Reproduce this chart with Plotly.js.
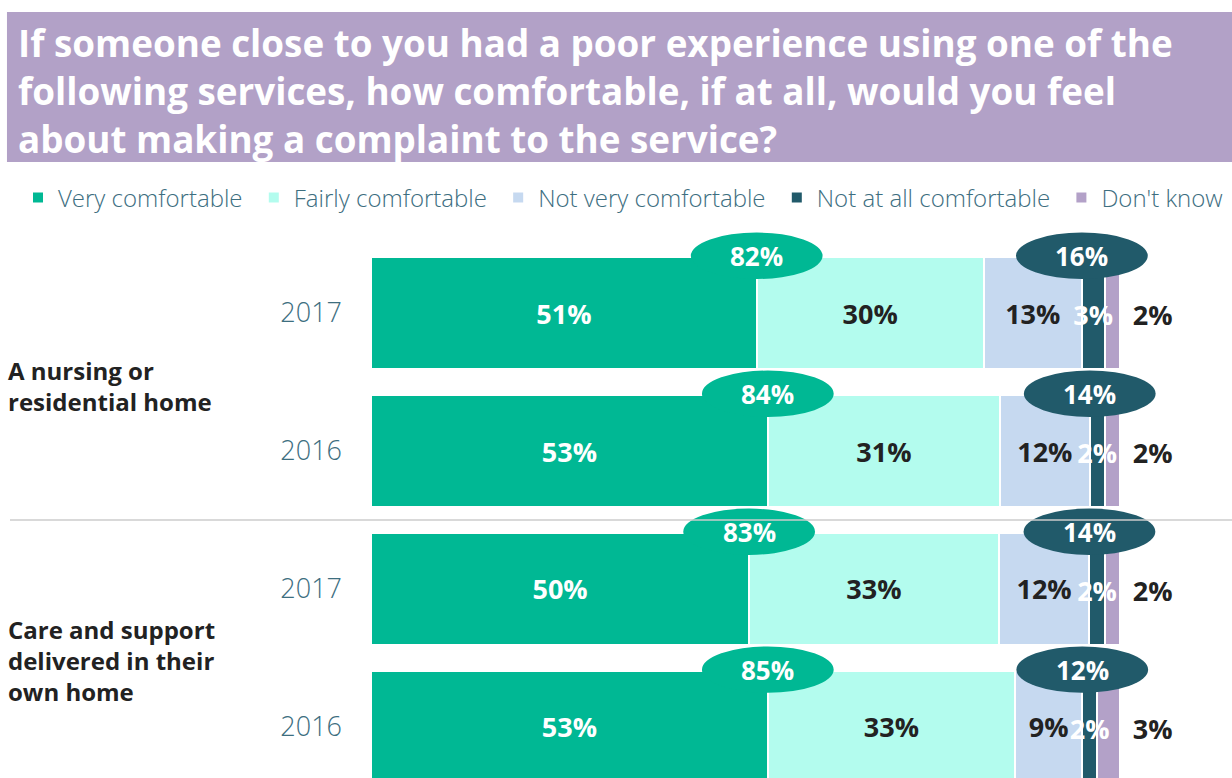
<!DOCTYPE html>
<html>
<head>
<meta charset="utf-8">
<script src="https://cdn.plot.ly/plotly-3.0.1.min.js"></script>
<style>html,body{margin:0;padding:0;background:#fff;}#chart{width:1232px;height:778px;}</style>
</head>
<body>
<div id="chart"></div>
<script>
// ---- data ----
const groupLabels = ['A nursing or<br>residential home', 'Care and support<br>delivered in their<br>own home'];
const yearLabels = ['2017', '2016', '2017', '2016'];
const seriesNames = ['Very comfortable', 'Fairly comfortable', 'Not very comfortable', 'Not at all comfortable', "Don't know"];
const veryComfortable = [51, 53, 50, 53];
const fairlyComfortable = [30, 31, 33, 33];
const notVeryComfortable = [13, 12, 12, 9];
const notAtAllComfortable = [3, 2, 2, 2];
const dontKnow = [2, 2, 2, 3];
const comfortableNet = [82, 84, 83, 85];
const uncomfortableNet = [16, 14, 14, 12];

// ---- styles ----
const FONT = 'Open Sans, Noto Sans, sans-serif';
const colors = ['#00b894', '#b3fcee', '#c6d9f0', '#215a6a', '#b3a1c8'];
const labelColors = ['#ffffff', '#222222', '#222222', '#ffffff', '#222222'];
const BAR_W = 0.81;
const TEXT_DY = 0.035;

const rows = yearLabels.map((_, i) => i);
const series = [veryComfortable, fairlyComfortable, notVeryComfortable, notAtAllComfortable, dontKnow];
const totals = rows.map(i => series.reduce((s, arr) => s + arr[i], 0));
const pct = v => v + '%';

const traces = series.map((vals, k) => ({
  type: 'bar', orientation: 'h', name: seriesNames[k] + (k < 4 ? '\u00a0' : ''),
  y: rows, x: vals, width: BAR_W,
  marker: {color: colors[k], line: {color: '#ffffff', width: 2}},
  text: vals.map(pct),
  textposition: k < 3 ? 'inside' : 'none',
  insidetextanchor: 'middle',
  constraintext: 'none',
  textfont: {family: FONT, size: 27, color: labelColors[k], weight: 700},
  hoverinfo: 'skip'
}));

// labels for the thin segments (drawn on top)
const cum3 = rows.map(i => veryComfortable[i] + fairlyComfortable[i] + notVeryComfortable[i]);
traces.push({
  type: 'scatter', mode: 'text', showlegend: false, hoverinfo: 'skip',
  y: rows.map(r => r + TEXT_DY),
  x: rows.map(i => (cum3[i] + notAtAllComfortable[i] / 2) / totals[i] * 100),
  text: notAtAllComfortable.map(pct),
  textfont: {family: FONT, size: 27, color: '#ffffff', weight: 700}
});
traces.push({
  type: 'scatter', mode: 'text', showlegend: false, hoverinfo: 'skip',
  y: rows.map(r => r + TEXT_DY),
  x: rows.map(() => 100 + 4.4),
  text: dontKnow.map(pct),
  textfont: {family: FONT, size: 27, color: '#222222', weight: 700}
});

const shapes = [];
const annotations = [];
const EW = 8.8, EH = 0.168;
rows.forEach(i => {
  const yTop = i - BAR_W / 2 - 0.01;
  const cxA = veryComfortable[i] / totals[i] * 100;
  const cxB = cum3[i] / totals[i] * 100;
  [[cxA, colors[0], comfortableNet[i]], [cxB, colors[3], uncomfortableNet[i]]].forEach(([cx, col, v]) => {
    shapes.push({type: 'circle', xref: 'x', yref: 'y', x0: cx - EW, x1: cx + EW, y0: yTop - EH, y1: yTop + EH,
      fillcolor: col, line: {width: 0}, layer: 'above'});
    annotations.push({xref: 'x', yref: 'y', x: cx, y: yTop, text: pct(v), showarrow: false,
      font: {family: FONT, size: 26, color: '#ffffff', weight: 700}});
  });
});

// title box
shapes.unshift({type: 'rect', xref: 'paper', yref: 'paper', x0: -0.4228, x1: 1.0, y0: 1.1139, y1: 1.3852,
  fillcolor: '#b2a1c7', line: {width: 0}, layer: 'below'});
// group separator
shapes.push({type: 'line', xref: 'paper', yref: 'y', x0: -0.4193, x1: 1.0, y0: 1.5, y1: 1.5,
  line: {color: '#cccccc', width: 1.5}});

groupLabels.forEach((g, j) => {
  annotations.push({xref: 'paper', yref: 'y', x: -0.4245, y: 0.5 + 2 * j + (j === 0 ? 0.03 : 0.015), xanchor: 'left', align: 'left',
    text: g, showarrow: false, font: {family: FONT, size: 24, color: '#222222', weight: 700}});
});

const layout = {
  width: 1232, height: 778,
  margin: {l: 371, r: 0, t: 225, b: 0},
  paper_bgcolor: '#ffffff', plot_bgcolor: '#ffffff',
  barmode: 'stack', barnorm: 'percent',
  title: {
    text: 'If someone close to you had a poor experience using one of the<br>following services, how comfortable, if at all, would you feel<br>about making a complaint to the service?',
    xref: 'container', yref: 'container', x: 0.0146, xanchor: 'left', y: 0.9267, yanchor: 'middle',
    font: {family: FONT, size: 36.8, color: '#ffffff', weight: 700}
  },
  showlegend: true,
  legend: {orientation: 'h', x: -0.41, xanchor: 'left', y: 1.0488, yanchor: 'middle',
    font: {family: FONT, size: 24, color: '#3d6e7f', weight: 300}, bgcolor: 'rgba(0,0,0,0)', traceorder: 'normal'},
  xaxis: {range: [0, 115], visible: false, showgrid: false, zeroline: false, fixedrange: true},
  yaxis: {range: [3.37, -0.638], tickmode: 'array', tickvals: rows, ticktext: yearLabels,
    showgrid: false, zeroline: false, showline: false, ticks: '', ticklabelstandoff: 28,
    tickfont: {family: FONT, size: 27, color: '#3d6e7f', weight: 300}, fixedrange: true},
  shapes: shapes,
  annotations: annotations
};

Plotly.newPlot('chart', traces, layout, {displayModeBar: false, staticPlot: true});
</script>
</body>
</html>
